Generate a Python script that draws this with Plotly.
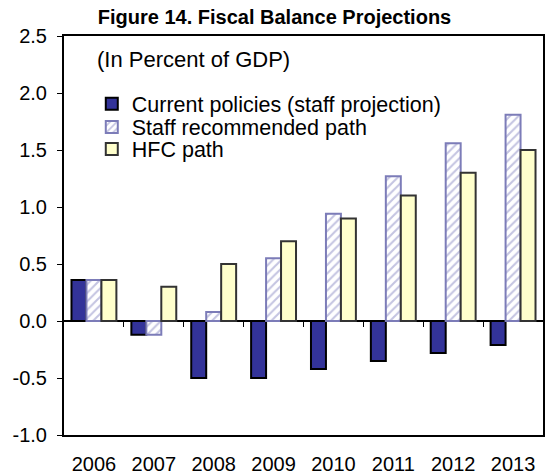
import plotly.graph_objects as go

years = ["2006", "2007", "2008", "2009", "2010", "2011", "2012", "2013"]
current_policies = [0.36, -0.12, -0.50, -0.50, -0.42, -0.35, -0.28, -0.21]
staff_path = [0.36, -0.12, 0.08, 0.55, 0.94, 1.27, 1.56, 1.81]
hfc_path = [0.36, 0.30, 0.50, 0.70, 0.90, 1.10, 1.30, 1.50]
boundaries = [0.5, 1.5, 2.5, 3.5, 4.5, 5.5, 6.5]
y_ticks = [-1.0, -0.5, 0.0, 0.5, 1.0, 1.5, 2.0, 2.5]
y_labels = ["-1.0", "-0.5", "0.0", "0.5", "1.0", "1.5", "2.0", "2.5"]

font = "Arial, Liberation Sans, sans-serif"

fig = go.Figure()
fig.add_trace(
    go.Bar(
        x=years,
        y=current_policies,
        name="Current policies (staff projection)",
        legend="legend",
        marker=dict(color="#333399", line=dict(color="black", width=2)),
    )
)
fig.add_trace(
    go.Bar(
        x=years,
        y=staff_path,
        name="Staff recommended path",
        legend="legend2",
        marker=dict(
            color="white",
            line=dict(color="#7c7cb8", width=2),
            pattern=dict(shape="/", fgcolor="#8a8ac4", bgcolor="white", size=6, solidity=0.35),
        ),
    )
)
fig.add_trace(
    go.Bar(
        x=years,
        y=hfc_path,
        name="HFC path",
        legend="legend3",
        marker=dict(color="#ffffcc", line=dict(color="#333333", width=2)),
    )
)

# small tick marks on the zero line between the years
fig.add_trace(
    go.Scatter(x=boundaries, y=[0] * len(boundaries), xaxis="x2", mode="markers",
               marker=dict(opacity=0), showlegend=False, hoverinfo="skip")
)

leg = dict(x=0.058, xanchor="left", yanchor="middle", bgcolor="rgba(0,0,0,0)",
           font=dict(size=21.5), itemwidth=30)

fig.update_layout(
    width=549,
    height=476,
    margin=dict(l=64, r=6, t=36, b=41),
    paper_bgcolor="white",
    plot_bgcolor="white",
    font=dict(family=font, size=20, color="black"),
    title=dict(
        text="<b>Figure 14. Fiscal Balance Projections</b>",
        x=0.5, xanchor="center", y=0.964, yanchor="middle",
        font=dict(size=20, family=font),
    ),
    barmode="group",
    bargap=0.25,
    bargroupgap=0,
    showlegend=True,
    legend=dict(leg, y=0.83),
    legend2=dict(leg, y=0.772),
    legend3=dict(leg, y=0.717),
    xaxis=dict(
        range=[-0.5, 7.5], showline=True, linecolor="black", linewidth=2, mirror=True,
        ticks="", showgrid=False, ticklabelstandoff=10, tickfont=dict(size=20),
        automargin=False,
    ),
    xaxis2=dict(
        overlaying="x", anchor="free", position=1 / 3.5, range=[-0.5, 7.5],
        tickvals=boundaries, showticklabels=False, ticks="outside", ticklen=5,
        tickcolor="black", tickwidth=1, showline=False, showgrid=False, zeroline=False,
    ),
    yaxis=dict(
        range=[-1.0, 2.5], tickvals=y_ticks, ticktext=y_labels, showline=True,
        linecolor="black", linewidth=2, mirror=True, ticks="outside", ticklen=5,
        tickcolor="black", showgrid=False, zeroline=True, zerolinecolor="black",
        zerolinewidth=1.5, ticklabelstandoff=6, tickfont=dict(size=20), automargin=False,
    ),
    annotations=[
        dict(text="(In Percent of GDP)", xref="paper", yref="paper", x=0.065, y=0.94,
             xanchor="left", yanchor="middle", showarrow=False, font=dict(size=22)),
    ],
)

fig.write_html(
    "out.html",
    config={"displayModeBar": False},
    post_script="document.body.style.margin = '0';",
)
